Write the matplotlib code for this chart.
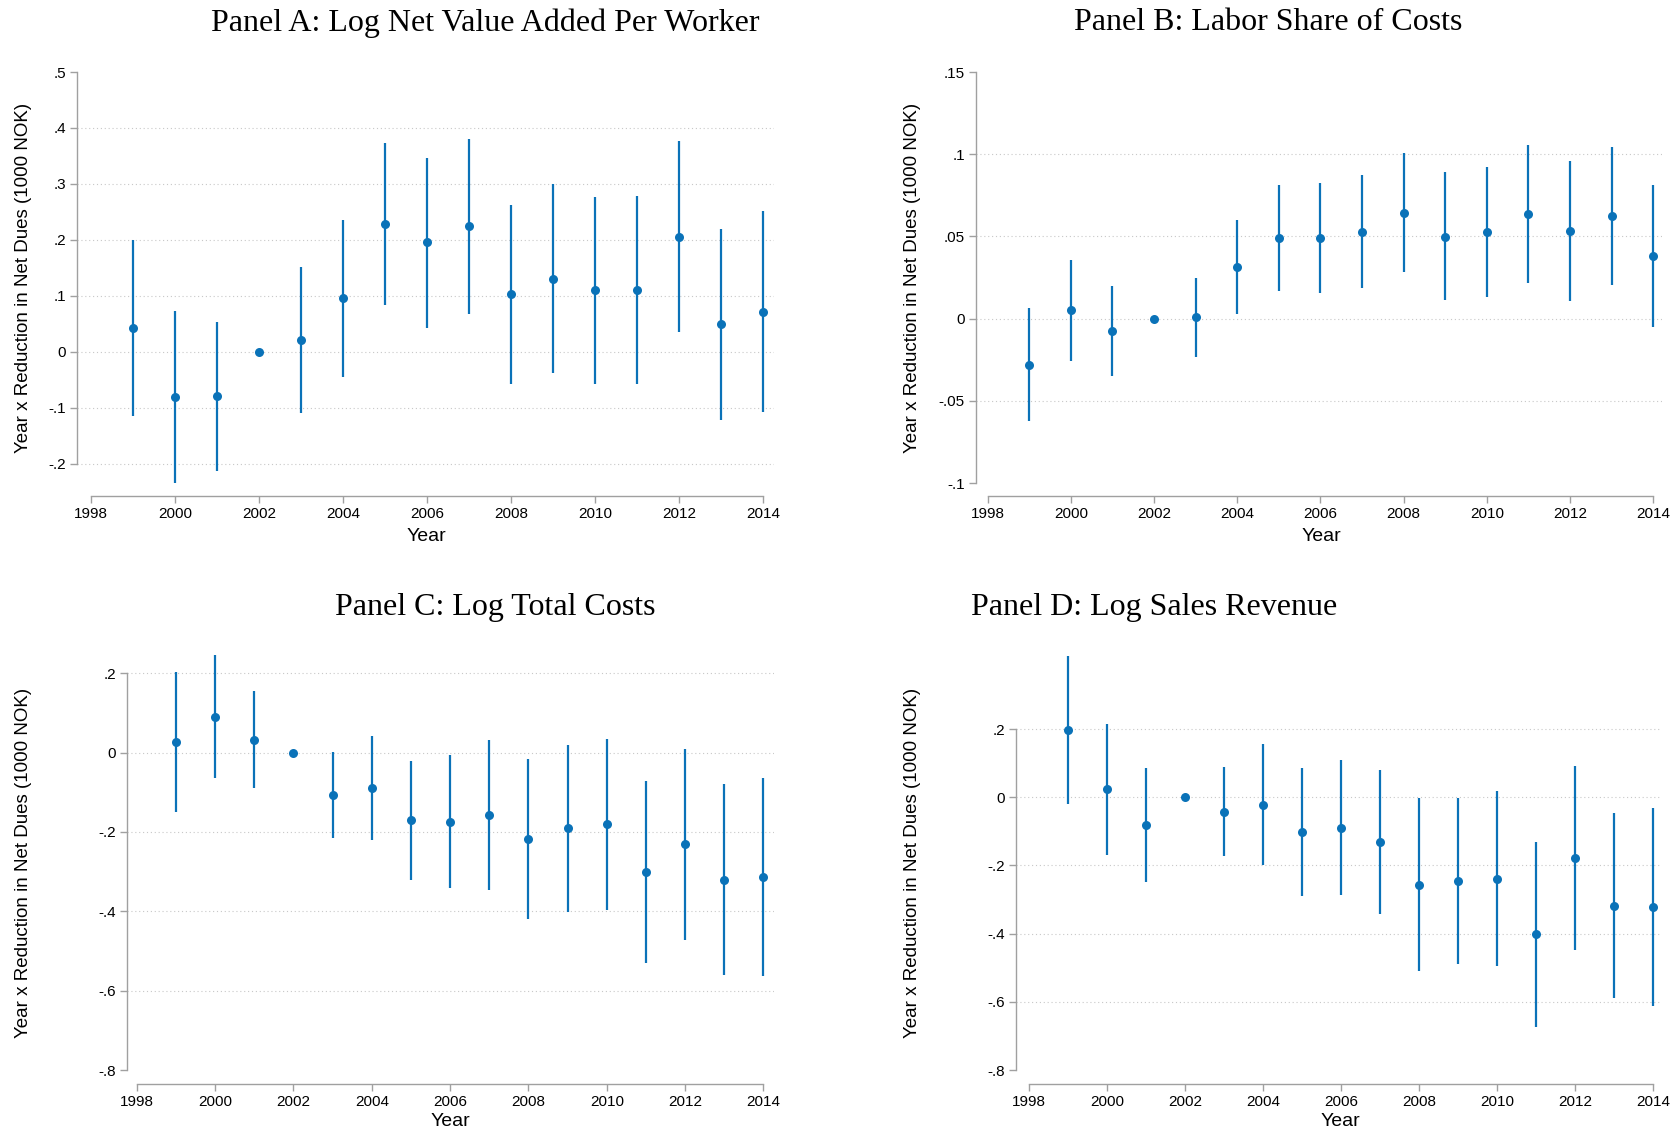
import numpy as np
import matplotlib
matplotlib.use("Agg")
import matplotlib.pyplot as plt

plt.rcParams['font.family'] = ['Liberation Sans', 'DejaVu Sans']

years = list(range(1999, 2015))

# Panel A: log net value added per worker
a_coef = [0.042, -0.080, -0.079, 0.0, 0.021, 0.096, 0.229, 0.196, 0.225, 0.103, 0.131, 0.110, 0.110, 0.206, 0.049, 0.072]
a_lo = [-0.115, -0.235, -0.212, 0.0, -0.109, -0.045, 0.083, 0.043, 0.068, -0.057, -0.037, -0.057, -0.058, 0.035, -0.121, -0.107]
a_hi = [0.200, 0.073, 0.053, 0.0, 0.151, 0.236, 0.373, 0.347, 0.381, 0.262, 0.300, 0.276, 0.278, 0.377, 0.220, 0.252]

# Panel B: labor share of costs
b_coef = [-0.028, 0.005, -0.0077, 0.0, 0.0008, 0.0315, 0.0493, 0.0489, 0.0529, 0.0644, 0.0499, 0.0529, 0.0636, 0.0531, 0.0624, 0.038]
b_lo = [-0.0622, -0.0259, -0.0347, 0.0, -0.0232, 0.003, 0.017, 0.0154, 0.0184, 0.0283, 0.0111, 0.0131, 0.022, 0.0105, 0.0204, -0.0048]
b_hi = [0.0065, 0.0358, 0.0196, 0.0, 0.0246, 0.0602, 0.0814, 0.0824, 0.0875, 0.1006, 0.0889, 0.0923, 0.1055, 0.0958, 0.1044, 0.081]

# Panel C: log total costs
c_coef = [0.026, 0.089, 0.033, 0.0, -0.107, -0.089, -0.171, -0.174, -0.157, -0.217, -0.191, -0.181, -0.300, -0.230, -0.321, -0.314]
c_lo = [-0.150, -0.065, -0.088, 0.0, -0.214, -0.221, -0.321, -0.341, -0.346, -0.418, -0.402, -0.397, -0.530, -0.471, -0.561, -0.563]
c_hi = [0.203, 0.245, 0.156, 0.0, 0.002, 0.043, -0.021, -0.006, 0.032, -0.016, 0.020, 0.035, -0.071, 0.010, -0.079, -0.065]

# Panel D: log sales revenue
d_coef = [0.196, 0.023, -0.082, 0.0, -0.043, -0.023, -0.103, -0.089, -0.132, -0.257, -0.246, -0.241, -0.402, -0.178, -0.318, -0.323]
d_lo = [-0.021, -0.170, -0.248, 0.0, -0.173, -0.200, -0.290, -0.288, -0.343, -0.511, -0.489, -0.495, -0.675, -0.447, -0.590, -0.611]
d_hi = [0.413, 0.216, 0.086, 0.0, 0.090, 0.155, 0.086, 0.110, 0.081, -0.001, -0.001, 0.017, -0.131, 0.092, -0.046, -0.033]

titles = ["Panel A: Log Net Value Added Per Worker", "Panel B: Labor Share of Costs",
          "Panel C: Log Total Costs", "Panel D: Log Sales Revenue"]
ytick_vals = [
    [-0.2, -0.1, 0, 0.1, 0.2, 0.3, 0.4, 0.5],
    [-0.1, -0.05, 0, 0.05, 0.1, 0.15],
    [-0.8, -0.6, -0.4, -0.2, 0, 0.2],
    [-0.8, -0.6, -0.4, -0.2, 0, 0.2],
]
ytick_text = [
    ["-.2", "-.1", "0", ".1", ".2", ".3", ".4", ".5"],
    ["-.1", "-.05", "0", ".05", ".1", ".15"],
    ["-.8", "-.6", "-.4", "-.2", "0", ".2"],
    ["-.8", "-.6", "-.4", "-.2", "0", ".2"],
]
xtick_vals = list(range(1998, 2015, 2))
ylabel = "Year x Reduction in Net Dues (1000 NOK)"

W, H = 1681, 1134
fig = plt.figure(figsize=(W / 100, H / 100), dpi=100)

# pixel boxes (left, top, right, bottom), axis limits, title/label spots
layout = [
    dict(box=(77, 72, 774, 496), ylim=(-0.2574, 0.5), xlim=(1997.66, 2014.25),
         title=(485, 23), ylab=(24, 278), xlab=(426, 537)),
    dict(box=(976, 72, 1662, 496), ylim=(-0.1078, 0.15), xlim=(1997.72, 2014.21),
         title=(1268, 23), ylab=(913, 278), xlab=(1321, 537)),
    dict(box=(127, 655, 774, 1084), ylim=(-0.835, 0.246), xlim=(1997.75, 2014.27),
         title=(495, 607), ylab=(24, 863), xlab=(450, 1122)),
    dict(box=(1016, 655, 1662, 1084), ylim=(-0.841, 0.417), xlim=(1997.67, 2014.23),
         title=(1154, 607), ylab=(913, 863), xlab=(1340, 1122)),
]

series = [(a_coef, a_lo, a_hi), (b_coef, b_lo, b_hi), (c_coef, c_lo, c_hi), (d_coef, d_lo, d_hi)]
blue = '#0a72b8'
axcol = '#a0a0a0'

for i in range(4):
    L = layout[i]
    l, t, r, b = L['box']
    ax = fig.add_axes([l / W, 1 - b / H, (r - l) / W, (b - t) / H])
    coef, lo, hi = series[i]
    ax.vlines(years, lo, hi, color=blue, lw=1.6, zorder=3)
    ax.plot(years, coef, 'o', color=blue, ms=6.5, mew=0, zorder=4)

    ax.set_xlim(*L['xlim'])
    ax.set_ylim(*L['ylim'])
    ax.set_xticks(xtick_vals)
    ax.set_yticks(ytick_vals[i])
    ax.set_yticklabels(ytick_text[i])
    ax.tick_params(axis='both', direction='out', length=5, width=1, color=axcol,
                   labelsize=11, pad=3)

    # dotted grid, skipped where a tick sits on the plot edge
    lo_lim, hi_lim = L['ylim']
    span = hi_lim - lo_lim
    for v in ytick_vals[i]:
        if v - lo_lim > 0.05 * span and hi_lim - v > 0.02 * span:
            ax.axhline(v, color='#c8c8c8', lw=0.8, ls=(0, (1, 2.5)), zorder=1)

    for s in ['top', 'right']:
        ax.spines[s].set_visible(False)
    for s in ['left', 'bottom']:
        ax.spines[s].set_color(axcol)
        ax.spines[s].set_linewidth(1)
    ax.spines['left'].set_bounds(ytick_vals[i][0], ytick_vals[i][-1])
    ax.spines['bottom'].set_bounds(1998, 2014)

    tx, ty = L['title']
    fig.text(tx / W, 1 - ty / H, titles[i], ha='center', va='center',
             family='Liberation Serif', fontsize=23)
    yx, yy = L['ylab']
    fig.text(yx / W, 1 - yy / H, ylabel, rotation=90, ha='center', va='center',
             fontsize=13.5)
    xx, xy = L['xlab']
    fig.text(xx / W, 1 - xy / H, "Year", ha='center', va='center', fontsize=14)

fig.savefig("out.png", dpi=100, facecolor='white')
